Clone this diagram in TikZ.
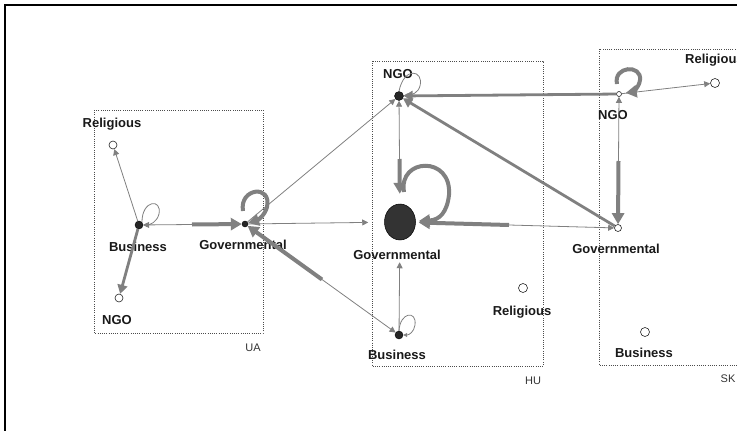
\documentclass[tikz,border=0pt]{standalone}
\usepackage{fontspec}
\setmainfont{Liberation Sans}
\usetikzlibrary{arrows.meta,shapes.geometric,calc}
\definecolor{edgec}{RGB}{128,128,128}
\begin{document}
\begin{tikzpicture}[x=1pt,y=-1pt,
  dot/.style={circle,fill=black!85,draw=black,line width=0.4pt,inner sep=0pt,minimum size=#1},
  hollow/.style={circle,draw=black!85,fill=white,line width=0.6pt,inner sep=0pt,minimum size=#1},
  lbl/.style={font=\bfseries\fontsize{13}{13}\selectfont,anchor=base,text=black!90,inner sep=0pt},
  clbl/.style={font=\fontsize{11}{11}\selectfont,anchor=base,text=black!80,inner sep=0pt},
  grp/.style={draw=black!70,line width=0.7pt,dash pattern=on 0.8pt off 1.4pt},
  thinE/.style={color=edgec,line width=0.8pt,-{Triangle[length=6pt,width=6pt]}},
  loopE/.style={color=edgec,line width=0.8pt,-{Triangle[length=4pt,width=4pt]}},
  midE/.style={color=edgec,line width=2.8pt,-{Triangle[length=9pt,width=10pt]}},
  thickE/.style={color=edgec,line width=4pt,-{Triangle[length=11pt,width=12pt]}},
]
\useasboundingbox (0,0) rectangle (737,431);
\clip (0,0) rectangle (737,431);
% frame
\draw[line width=2pt,black] (5,431) -- (5,5) -- (737,5);
% group boxes
\draw[grp] (94,110) rectangle (263,333);
\draw[grp] (372,61) rectangle (543,366);
\draw[grp] (599,49) rectangle (745,365);
\node[clbl] (uaT) at (253,351) {UA};
\node[clbl] (huT) at (533,384) {HU};
\node[clbl] (skT) at (728,382) {SK};
% labels
\node[lbl] (uaRl) at (112,127) {Religious};
\node[lbl] (uaBl) at (138,251) {Business};
\node[lbl] (uaNl) at (117,324) {NGO};
\node[lbl] (uaGl) at (243,249) {Governmental};
\node[lbl] (huNl) at (398,78) {NGO};
\node[lbl] (huGl) at (397,259) {Governmental};
\node[lbl] (huRl) at (522,315) {Religious};
\node[lbl] (huBl) at (397,359) {Business};
\node[lbl,anchor=base west] (skRl) at (685,63) {Religious};
\node[lbl] (skNl) at (613,119) {NGO};
\node[lbl] (skGl) at (616,253) {Governmental};
\node[lbl] (skBl) at (644,357) {Business};
% nodes
\node[hollow=8pt] (uaR) at (113,145) {};
\node[dot=8pt] (uaB) at (139,225) {};
\node[hollow=8pt] (uaN) at (119,298) {};
\node[dot=6pt] (uaG) at (245,224) {};
\node[dot=9pt] (huN) at (399,96) {};
\node[ellipse,fill=black!80,draw=black,line width=0.5pt,minimum width=31pt,minimum height=36pt,inner sep=0pt] (huG) at (400,222) {};
\node[hollow=9pt] (huR) at (523,288) {};
\node[dot=8pt] (huB) at (399,335) {};
\node[hollow=5pt] (skN) at (619,94) {};
\node[hollow=9pt] (skR) at (715,83) {};
\node[hollow=7pt] (skG) at (618,228) {};
\node[hollow=9pt] (skB) at (645,332) {};
% midpoints of two-way links
\coordinate (m1) at ($(uaB)!0.5!(uaG)$);
\coordinate (m2) at ($(uaG)!0.5!(huB)$);
\coordinate (m3) at ($(huN)!0.5!(huG)$);
\coordinate (m4) at ($(huG)!0.5!(skG)$);
\coordinate (m5) at ($(skN)!0.5!(skG)$);
% UA edges
\draw[thinE] (uaB) -- (uaR);
\draw[midE] (uaB) -- (uaN);
\draw[thinE] (m1) -- (uaB);
\draw[thickE] (m1) -- (uaG);
\draw[thinE] (uaG) -- (huN);
\draw[thinE,shorten >=16pt] (uaG) -- (huG);
\draw[thickE] (m2) -- (uaG);
\draw[thinE] (m2) -- (huB);
% HU edges
\draw[thinE] (m3) -- (huN);
\draw[thickE,shorten >=10pt] (m3) -- (huG);
\draw[thinE,shorten >=22pt] (huB) -- (huG);
% SK edges
\draw[midE] (skN) -- (huN);
\draw[midE] (skG) -- (huN);
\draw[thickE,shorten >=3pt] (m4) -- (huG);
\draw[thinE] (m4) -- (skG);
\draw[thinE] (m5) -- (skN);
\draw[thickE] (m5) -- (skG);
\draw[thinE] (skN) -- (skR);
% self loops
\draw[loopE] (uaB.north east) .. controls (142,200) and (162,198) .. (159,214) .. controls (157,222) and (150,225) .. (uaB);
\draw[thickE] (243,211) .. controls (239,188) and (272,184) .. (267,207) .. controls (265,215) and (258,220) .. (uaG);
\draw[loopE] (huN.north) .. controls (404,66) and (424,70) .. (420,86) .. controls (418,93) and (412,95) .. (huN);
\draw[thickE,shorten >=3pt] (404,192) .. controls (398,158) and (452,155) .. (449,195) .. controls (447,212) and (440,220) .. (huG);
\draw[loopE] (huB.north) .. controls (400,312) and (417,310) .. (415,325) .. controls (414,332) and (409,335) .. (huB);
\draw[thickE,shorten >=4pt] (617,84) .. controls (613,66) and (642,64) .. (640,80) .. controls (639,88) and (632,92) .. (skN);
\end{tikzpicture}
\end{document}
